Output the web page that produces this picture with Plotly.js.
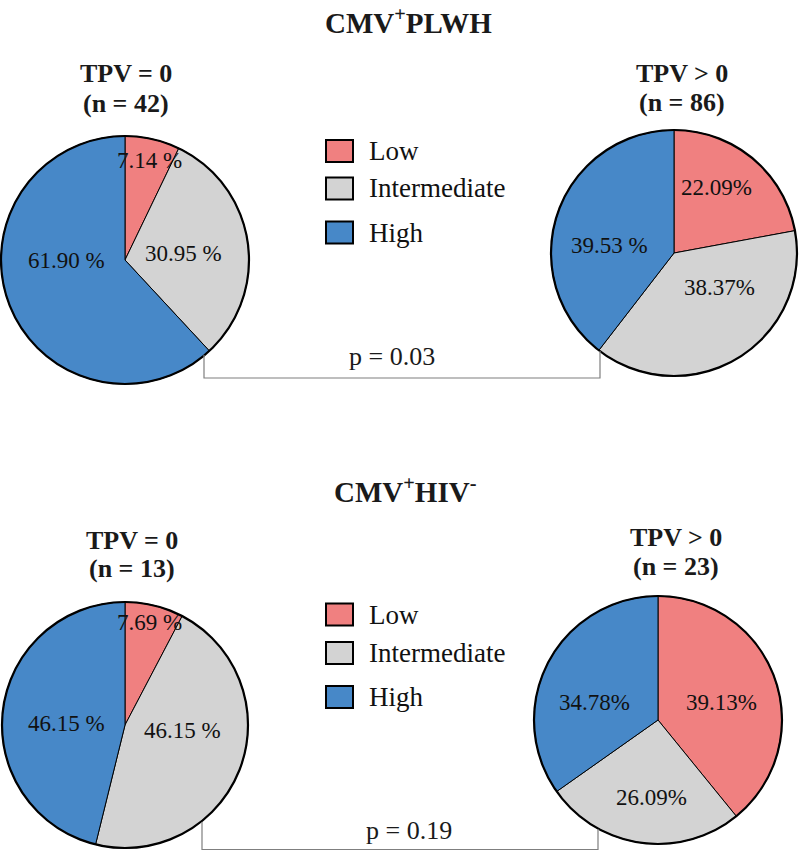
<!DOCTYPE html>
<html><head><meta charset="utf-8">
<script src="https://cdn.plot.ly/plotly-3.0.1.min.js"></script>
<style>html,body{margin:0;padding:0;background:#fff}</style>
</head><body><div id="chart" style="width:800px;height:851px"></div>
<script>
// ---------- data ----------
const categories = ['Low', 'Intermediate', 'High'];
const groupTitles = ['CMV<sup>+</sup>PLWH', 'CMV<sup>+</sup>HIV<sup>-</sup>'];
const pieHeaders = ['TPV = 0', 'TPV > 0', 'TPV = 0', 'TPV > 0'];
const pieN = ['(n = 42)', '(n = 86)', '(n = 13)', '(n = 23)'];
const plwhTpv0 = [7.14, 30.95, 61.90];
const plwhTpvPos = [22.09, 38.37, 39.53];
const hivNegTpv0 = [7.69, 46.15, 46.15];
const hivNegTpvPos = [39.13, 26.09, 34.78];
const plwhTpv0Labels = ['7.14 %', '30.95 %', '61.90 %'];
const plwhTpvPosLabels = ['22.09%', '38.37%', '39.53 %'];
const hivNegTpv0Labels = ['7.69 %', '46.15 %', '46.15 %'];
const hivNegTpvPosLabels = ['39.13%', '26.09%', '34.78%'];
const pValues = ['p = 0.03', 'p = 0.19'];

// ---------- styling / layout geometry (pixels) ----------
const W = 800, H = 851;
const sliceColors = ['#F08080', '#D3D3D3', '#4788C8'];
const FONT = 'Liberation Serif, Times New Roman, serif';
const pies = [
  {cx: 125, cy: 260, r: 124, values: plwhTpv0, labels: plwhTpv0Labels,
   off: [[24, -100], [58, -7], [-59, 1]], hx: 126, hy1: 74, hy2: 103},
  {cx: 674, cy: 253, r: 123, values: plwhTpvPos, labels: plwhTpvPosLabels,
   off: [[42, -66], [45, 34], [-65, -8]], hx: 682, hy1: 74, hy2: 102},
  {cx: 125, cy: 725, r: 123, values: hivNegTpv0, labels: hivNegTpv0Labels,
   off: [[24, -103], [57, 5], [-59, -2]], hx: 132, hy1: 540, hy2: 568},
  {cx: 658, cy: 720, r: 124, values: hivNegTpvPos, labels: hivNegTpvPosLabels,
   off: [[63, -18], [-7, 77], [-64, -18]], hx: 676, hy1: 537, hy2: 566}
];
const px = x => x / W;
const py = y => 1 - y / H;

const traces = [];
const annotations = [];
const shapes = [];

pies.forEach((p, i) => {
  const domain = {x: [px(p.cx - p.r), px(p.cx + p.r)], y: [py(p.cy + p.r), py(p.cy - p.r)]};
  traces.push({
    type: 'pie', labels: categories, values: p.values, sort: false,
    direction: 'clockwise', rotation: 0, domain: domain,
    marker: {colors: sliceColors, line: {color: '#000', width: 1}},
    textinfo: 'none', hoverinfo: 'label+percent', showlegend: false
  });
  // outer ring (thicker border)
  traces.push({
    type: 'pie', labels: ['all'], values: [1], sort: false, domain: domain,
    marker: {colors: ['rgba(0,0,0,0)'], line: {color: '#000', width: 2.2}},
    textinfo: 'none', hoverinfo: 'skip', showlegend: false
  });
  p.labels.forEach((t, k) => {
    annotations.push({xref: 'paper', yref: 'paper', x: px(p.cx + p.off[k][0]), y: py(p.cy + p.off[k][1]),
      text: t, showarrow: false, xanchor: 'center', yanchor: 'middle',
      font: {family: FONT, size: 23, color: '#111'}});
  });
  annotations.push({xref: 'paper', yref: 'paper', x: px(p.hx), y: py(p.hy1), text: '<b>' + pieHeaders[i] + '</b>',
    showarrow: false, xanchor: 'center', yanchor: 'middle', font: {family: FONT, size: 26, color: '#1a1a1a'}});
  annotations.push({xref: 'paper', yref: 'paper', x: px(p.hx), y: py(p.hy2), text: '<b>' + pieN[i] + '</b>',
    showarrow: false, xanchor: 'center', yanchor: 'middle', font: {family: FONT, size: 26, color: '#1a1a1a'}});
});

// group titles
[[408, 21], [406, 490]].forEach((pos, i) => {
  annotations.push({xref: 'paper', yref: 'paper', x: px(pos[0]), y: py(pos[1]), text: '<b>' + groupTitles[i] + '</b>',
    showarrow: false, xanchor: 'center', yanchor: 'middle', font: {family: FONT, size: 29, color: '#1a1a1a'}});
});

// legends
const legendRows = [[151, 188.5, 232.5], [614.5, 653, 697]];
legendRows.forEach(rows => {
  rows.forEach((yc, k) => {
    shapes.push({type: 'rect', xref: 'paper', yref: 'paper', x0: px(326), x1: px(353), y0: py(yc + 11), y1: py(yc - 11),
      fillcolor: sliceColors[k], line: {color: '#000', width: 2}});
    annotations.push({xref: 'paper', yref: 'paper', x: px(367), y: py(yc), text: categories[k], showarrow: false,
      xanchor: 'left', yanchor: 'middle', font: {family: FONT, size: 27, color: '#111'}});
  });
});

// p-value brackets
const brackets = [
  {x0: 204, y0: 355, x1: 600, y1: 351, yb: 378, tx: 392, ty: 356},
  {x0: 202, y0: 822, x1: 598, y1: 829, yb: 849.5, tx: 409, ty: 830}
];
brackets.forEach((b, i) => {
  shapes.push({type: 'path', xref: 'paper', yref: 'paper',
    path: `M${px(b.x0)},${py(b.y0)} L${px(b.x0)},${py(b.yb)} L${px(b.x1)},${py(b.yb)} L${px(b.x1)},${py(b.y1)}`,
    line: {color: '#7f7f7f', width: 1.2}});
  annotations.push({xref: 'paper', yref: 'paper', x: px(b.tx), y: py(b.ty), text: pValues[i], showarrow: false,
    xanchor: 'center', yanchor: 'middle', font: {family: FONT, size: 26, color: '#1a1a1a'}});
});

const layout = {
  width: W, height: H, margin: {l: 0, r: 0, t: 0, b: 0},
  paper_bgcolor: '#fff', plot_bgcolor: '#fff', showlegend: false,
  annotations: annotations, shapes: shapes
};
Plotly.newPlot('chart', traces, layout, {displayModeBar: false, staticPlot: true});
</script></body></html>
